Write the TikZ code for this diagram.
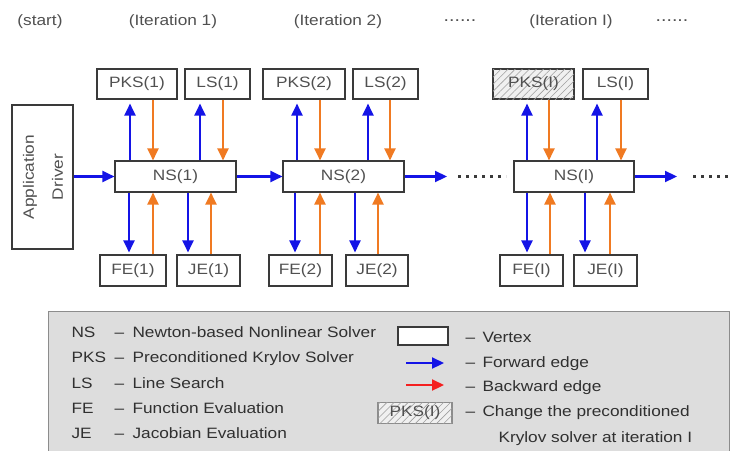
\documentclass[tikz,border=0pt]{standalone}
\usepackage{fontspec}
\setmainfont[FakeStretch=1.15]{Liberation Sans}
\usetikzlibrary{arrows.meta,patterns.meta}
\definecolor{fwdblue}{HTML}{1414E6}
\definecolor{bwdorange}{HTML}{F07A22}
\definecolor{bwdred}{HTML}{F42020}
\definecolor{boxline}{HTML}{3A3A3A}
\definecolor{boxtext}{HTML}{505050}
\definecolor{legfill}{HTML}{DDDDDD}
\definecolor{legline}{HTML}{8C8C8C}
\definecolor{legtext}{HTML}{303030}
\begin{document}
\begin{tikzpicture}[x=1pt,y=-1pt,
  every node/.style={font=\fontsize{15}{18}\selectfont},
  vbox/.style={draw=boxline,line width=1.1pt,fill=white,inner sep=0pt,
    text=boxtext,minimum height=30pt},
  hatched/.style={fill=gray!12,postaction={pattern={Lines[angle=45,distance=5pt,line width=0.6pt]},pattern color=gray!75}},
  tip/.style={-{Triangle[length=12pt,width=11pt]}},
  fwd/.style={draw=fwdblue,line width=2.2pt,tip},
  bwd/.style={draw=bwdorange,line width=2.2pt,tip},
  bwdleg/.style={draw=bwdred,line width=2.2pt,tip},
  head/.style={text=boxtext},
  legkey/.style={anchor=base west,text=legtext},
  dotrow/.style={draw=boxline,line width=3pt,dash pattern=on 3pt off 5pt}
]
\useasboundingbox (0,0) rectangle (730,450);

% headings
\node[head] (hs) at (40,22) {(start)};
\node[head] (h1) at (173,22) {(Iteration 1)};
\node[head] (h2) at (338,22) {(Iteration 2)};
\node[head,font=\fontsize{17}{20}\selectfont] (hd1) at (460,21) {......};
\node[head] (hI) at (571,22) {(Iteration I)};
\node[head,font=\fontsize{17}{20}\selectfont] (hd2) at (672,21) {......};

% driver
\node[vbox,minimum width=61pt,minimum height=144pt] (drv) at (42.5,177) {};
\node[rotate=90,align=center,text=boxtext,font=\fontsize{15}{29}\selectfont] (drvt) at (43,177) {Application\\Driver};

% NS nodes
\node[vbox,minimum width=121pt,minimum height=31pt] (NS1) at (175.5,176.5) {NS(1)};
\node[vbox,minimum width=121pt,minimum height=31pt] (NS2) at (343.5,176.5) {NS(2)};
\node[vbox,minimum width=120pt,minimum height=31pt] (NSI) at (574,176.5) {NS(I)};

% top row
\node[vbox,minimum width=80pt] (PKS1) at (137,84) {PKS(1)};
\node[vbox,minimum width=65pt] (LS1) at (217.5,84) {LS(1)};
\node[vbox,minimum width=82pt] (PKS2) at (304,84) {PKS(2)};
\node[vbox,minimum width=65pt] (LS2) at (385.5,84) {LS(2)};
\node[vbox,hatched,minimum width=81pt] (PKSI) at (533.5,84) {PKS(I)};
\node[vbox,minimum width=65pt] (LSI) at (615.5,84) {LS(I)};

% bottom row
\node[vbox,minimum width=66pt,minimum height=31pt] (FE1) at (133,270.5) {FE(1)};
\node[vbox,minimum width=63pt,minimum height=31pt] (JE1) at (208.5,270.5) {JE(1)};
\node[vbox,minimum width=63pt,minimum height=31pt] (FE2) at (300.5,270.5) {FE(2)};
\node[vbox,minimum width=62pt,minimum height=31pt] (JE2) at (377,270.5) {JE(2)};
\node[vbox,minimum width=63pt,minimum height=31pt] (FEI) at (531.5,270.5) {FE(I)};
\node[vbox,minimum width=63pt,minimum height=31pt] (JEI) at (605.5,270.5) {JE(I)};

% x positions of vertical edges
\foreach \n/\x in {t1b/130,t1o/153,t2b/200,t2o/223,t3b/297,t3o/320,t4b/368,t4o/390,
  t5b/527,t5o/549,t6b/597,t6o/621,
  b1b/129,b1o/153,b2b/188,b2o/211,b3b/295,b3o/320,b4b/355,b4o/378,
  b5b/527,b5o/550,b6b/585,b6o/610}
  \coordinate (\n) at (\x,0);

% top edges
\draw[fwd,shorten >=4pt] (NS1.north -| t1b) -- (PKS1.south -| t1b);
\draw[bwd] (PKS1.south -| t1o) -- (NS1.north -| t1o);
\draw[fwd,shorten >=4pt] (NS1.north -| t2b) -- (LS1.south -| t2b);
\draw[bwd] (LS1.south -| t2o) -- (NS1.north -| t2o);
\draw[fwd,shorten >=4pt] (NS2.north -| t3b) -- (PKS2.south -| t3b);
\draw[bwd] (PKS2.south -| t3o) -- (NS2.north -| t3o);
\draw[fwd,shorten >=4pt] (NS2.north -| t4b) -- (LS2.south -| t4b);
\draw[bwd] (LS2.south -| t4o) -- (NS2.north -| t4o);
\draw[fwd,shorten >=4pt] (NSI.north -| t5b) -- (PKSI.south -| t5b);
\draw[bwd] (PKSI.south -| t5o) -- (NSI.north -| t5o);
\draw[fwd,shorten >=4pt] (NSI.north -| t6b) -- (LSI.south -| t6b);
\draw[bwd] (LSI.south -| t6o) -- (NSI.north -| t6o);

% bottom edges
\draw[fwd,shorten >=2pt] (NS1.south -| b1b) -- (FE1.north -| b1b);
\draw[bwd] (FE1.north -| b1o) -- (NS1.south -| b1o);
\draw[fwd,shorten >=2pt] (NS1.south -| b2b) -- (JE1.north -| b2b);
\draw[bwd] (JE1.north -| b2o) -- (NS1.south -| b2o);
\draw[fwd,shorten >=2pt] (NS2.south -| b3b) -- (FE2.north -| b3b);
\draw[bwd] (FE2.north -| b3o) -- (NS2.south -| b3o);
\draw[fwd,shorten >=2pt] (NS2.south -| b4b) -- (JE2.north -| b4b);
\draw[bwd] (JE2.north -| b4o) -- (NS2.south -| b4o);
\draw[fwd,shorten >=2pt] (NSI.south -| b5b) -- (FEI.north -| b5b);
\draw[bwd] (FEI.north -| b5o) -- (NSI.south -| b5o);
\draw[fwd,shorten >=2pt] (NSI.south -| b6b) -- (JEI.north -| b6b);
\draw[bwd] (JEI.north -| b6o) -- (NSI.south -| b6o);

% horizontal edges
\coordinate (e1) at (447,176.5);
\coordinate (e2) at (677,176.5);
\coordinate (d1a) at (458,176.5);
\coordinate (d1b) at (506,176.5);
\coordinate (d2a) at (693,176.5);
\coordinate (d2b) at (733,176.5);
\draw[fwd] (drv.east |- NS1.west) -- (NS1.west);
\draw[fwd] (NS1.east) -- (NS2.west);
\draw[fwd] (NS2.east) -- (e1);
\draw[dotrow] (d1a) -- (d1b);
\draw[fwd] (NSI.east) -- (e2);
\draw[dotrow] (d2a) -- (d2b);

% legend
\draw[draw=legline,fill=legfill,line width=1pt] (48,311) rectangle (729,456);
\foreach \k/\d/\y [count=\i] in {NS/Newton-based Nonlinear Solver/337,
  PKS/Preconditioned Krylov Solver/362,LS/Line Search/388,
  FE/Function Evaluation/413,JE/Jacobian Evaluation/438}{
  \node[legkey] (lk\i) at (68,\y) {\k};
  \node[legkey] (ld\i) at (111,\y) {–};
  \node[legkey] (lt\i) at (129,\y) {\d};
}
\node[vbox,minimum width=50pt,minimum height=18pt] (lv) at (423,336) {};
\coordinate (lf1) at (406,363);
\coordinate (lf2) at (444,363);
\coordinate (lb1) at (406,385);
\coordinate (lb2) at (444,385);
\draw[fwd] (lf1) -- (lf2);
\draw[bwdleg] (lb1) -- (lb2);
\node[vbox,hatched,minimum width=74pt,minimum height=21pt,draw=legline] (lp) at (415,413) {PKS(I)};
\node[legkey] (rd1) at (462,342) {–};
\node[legkey] (rt1) at (479,342) {Vertex};
\node[legkey] (rd2) at (462,367) {–};
\node[legkey] (rt2) at (479,367) {Forward edge};
\node[legkey] (rd3) at (462,391) {–};
\node[legkey] (rt3) at (479,391) {Backward edge};
\node[legkey] (rd4) at (462,416) {–};
\node[legkey] (rt4) at (479,416) {Change the preconditioned};
\node[legkey] (rt5) at (495,442) {Krylov solver at iteration I};
\end{tikzpicture}
\end{document}
